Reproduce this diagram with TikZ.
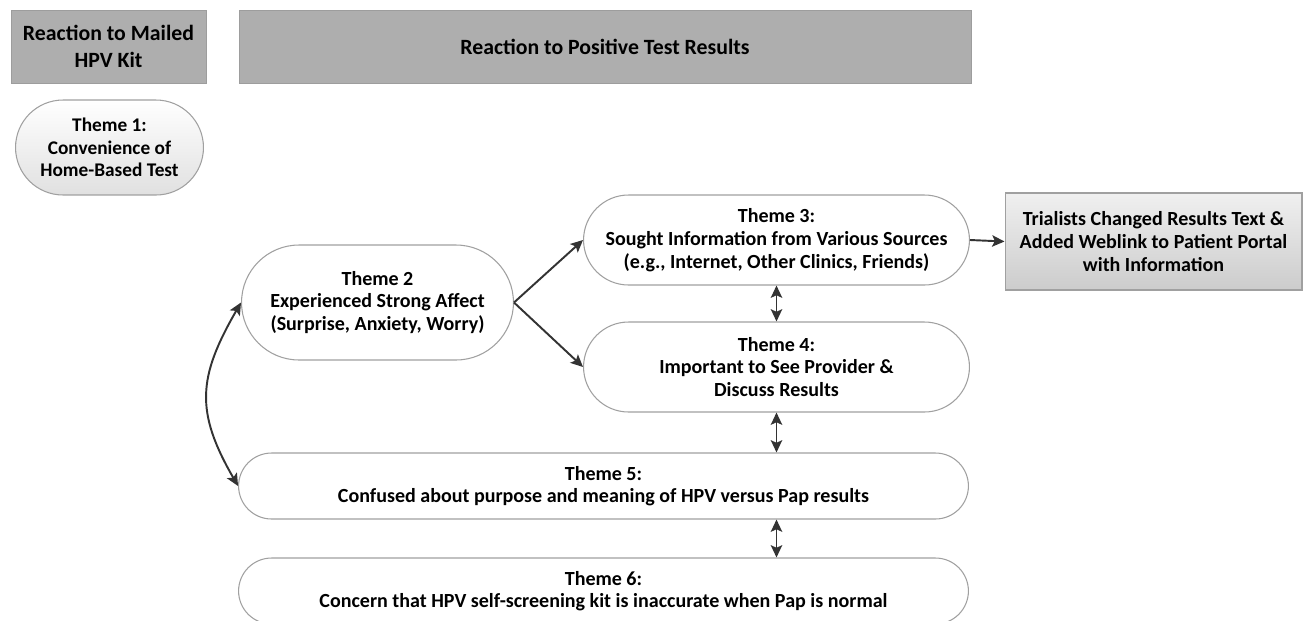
\documentclass[tikz,border=0pt]{standalone}
\usepackage{fontspec}
\setmainfont{Carlito}
\usetikzlibrary{arrows.meta,shapes.misc,positioning}

\definecolor{hdrgray}{HTML}{AEAEAE}
\definecolor{linegray}{HTML}{A0A0A0}
\definecolor{arrowgray}{HTML}{333333}

\begin{document}
\begin{tikzpicture}[x=0.02cm, y=-0.02cm, font=\fontsize{11.4}{12.9}\selectfont\bfseries,
	tip/.tip={Stealth[length=7pt,width=6.5pt,inset=1.5pt]}]
	\tikzstyle{header}=[rectangle, fill=hdrgray, draw=hdrgray!90!black, line width=0.3pt, align=center, minimum height=1.46cm, inner sep=2pt, font=\fontsize{12.4}{15}\selectfont\bfseries]
	\tikzstyle{theme}=[rounded rectangle, draw=linegray, line width=0.6pt, fill=white, align=center, inner sep=2pt]
	\tikzstyle{outcome}=[rectangle, draw=linegray, line width=0.6pt, top color=black!6, bottom color=black!20, align=center, minimum width=5.94cm, minimum height=1.94cm]
	\tikzstyle{link}=[-tip, draw=arrowgray, line width=1.1pt]
	\tikzstyle{both}=[tip-tip, draw=arrowgray, line width=1.1pt]

	\useasboundingbox (0,0) rectangle (1303,620);

	% column headers
	\node (mailed) [header, minimum width=3.9cm] at (108.5,46.5) {Reaction to Mailed\\HPV Kit};
	\node (positive) [header, minimum width=14.64cm] at (605,46.5) {Reaction to Positive Test Results};

	% themes
	\node (t1) [theme, top color=white, bottom color=black!12, minimum width=3.9cm, minimum height=1.9cm, font=\fontsize{11}{12.9}\selectfont\bfseries] at (109.5,147.5) {Theme 1:\\Convenience of\\Home-Based Test};
	\node (t2) [theme, minimum width=5.58cm, minimum height=2.3cm] at (377.5,302.5) {Theme 2\\Experienced Strong Affect\\(Surprise, Anxiety, Worry)};
	\node (t3) [theme, minimum width=7.86cm, minimum height=1.8cm] at (776.5,240) {Theme 3:\\Sought Information from Various Sources\\(e.g., Internet, Other Clinics, Friends)};
	\node (t4) [theme, minimum width=7.86cm, minimum height=1.8cm] at (776.5,367) {Theme 4:\\Important to See Provider \&\\Discuss Results};
	\node (t5) [theme, minimum width=14.74cm, minimum height=1.32cm] at (603.5,486) {Theme 5:\\Confused about purpose and meaning of HPV versus Pap results};
	\node (t6) [theme, minimum width=14.74cm, minimum height=1.32cm] at (603.5,591) {Theme 6:\\Concern that HPV self-screening kit is inaccurate when Pap is normal};

	% trialists' response
	\node (change) [outcome] at (1153.5,241.5) {Trialists Changed Results Text \&\\Added Weblink to Patient Portal\\with Information};

	\draw[link] (t2.east) -- (t3.west);
	\draw[link] (t2.east) -- (t4.west);
	\draw[link] (t3.east) -- (change.west);
	\draw[both] (t3.south) -- (t4.north);
	\draw[both] (t4.south) -- (t4.south |- t5.north);
	\draw[both] (t4.south |- t5.south) -- (t4.south |- t6.north);
	\draw[both] (t2.west) to[out=240, in=120, looseness=1.2] (t5.west);
\end{tikzpicture}
\end{document}
